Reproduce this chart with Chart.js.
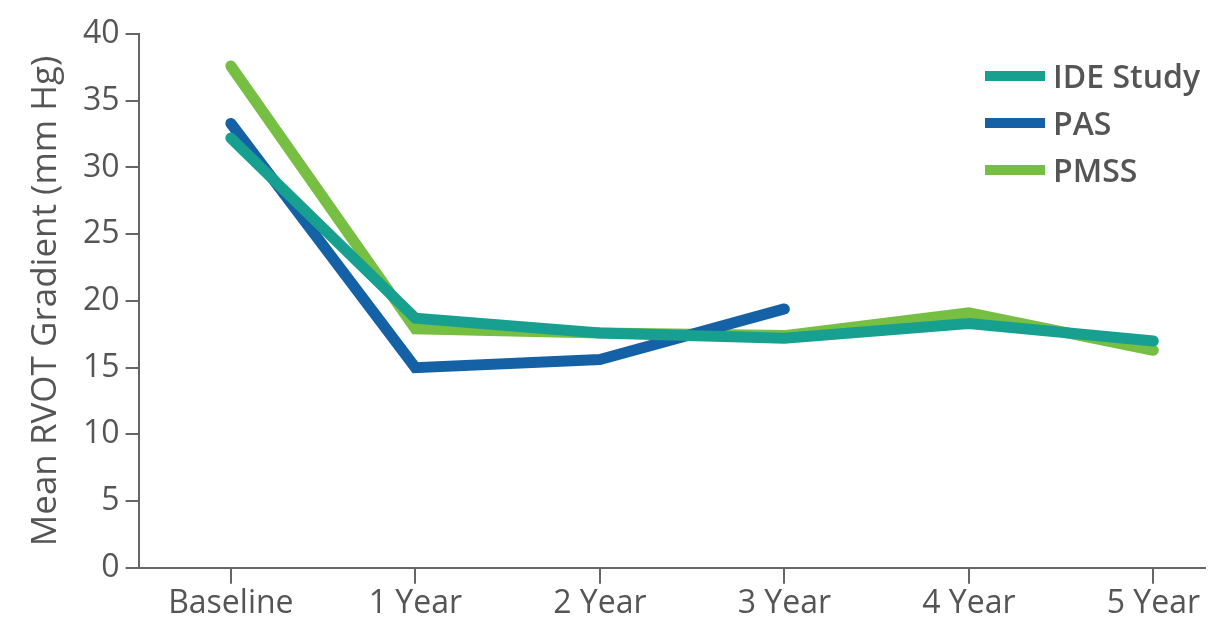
<!DOCTYPE html>
<html>
<head>
<meta charset="utf-8">
<script src="https://cdn.jsdelivr.net/npm/chart.js@4"></script>
<style>
  body { margin: 0; background: #fff; }
  #wrap { position: relative; width: 1209px; height: 629px; }
  #legend { position: absolute; left: 985px; top: 52px; font-family: "Open Sans", sans-serif; font-size: 32px; font-weight: 600; color: #555; }
  .row { display: flex; align-items: center; height: 47px; }
  .swatch { width: 60px; height: 10px; margin-right: 8px; }
</style>
</head>
<body>
<div id="wrap">
  <canvas id="chart" width="1209" height="629"></canvas>
  <div id="legend"></div>
</div>
<script>
// categories and series
const categories = ["Baseline", "1 Year", "2 Year", "3 Year", "4 Year", "5 Year"];
const ideStudy = [32.2, 18.7, 17.6, 17.2, 18.3, 17.0];
const pas = [33.3, 15.0, 15.6, 19.4];
const pmss = [37.6, 17.9, 17.6, 17.4, 19.1, 16.3];
const yTicks = [0, 5, 10, 15, 20, 25, 30, 35, 40];

const seriesNames = ["IDE Study", "PAS", "PMSS"];
const seriesColors = ["#17a08f", "#1561a6", "#76bf43"];

function toPoints(values) {
  return values.map((v, i) => ({ x: i, y: v }));
}

const axisColor = "#666";
const tickFont = { family: "Open Sans", size: 32 };

const ctx = document.getElementById("chart").getContext("2d");
new Chart(ctx, {
  type: "line",
  data: {
    datasets: [ideStudy, pas, pmss].map((vals, i) => ({
      label: seriesNames[i],
      data: toPoints(vals),
      borderColor: seriesColors[i],
      backgroundColor: seriesColors[i],
      borderWidth: 11,
      borderCapStyle: "round",
      borderJoinStyle: "miter",
      pointRadius: 0,
      tension: 0,
      fill: false,
    })),
  },
  options: {
    responsive: false,
    animation: false,
    layout: { padding: { top: 34, right: 4, left: 25, bottom: 6 } },
    plugins: {
      legend: { display: false },
      tooltip: { enabled: false },
    },
    scales: {
      x: {
        type: "linear",
        min: -0.5,
        max: 5.28,
        afterBuildTicks: (axis) => {
          axis.ticks = categories.map((_, i) => ({ value: i }));
        },
        ticks: {
          font: { family: "Open Sans", size: 32, lineHeight: 1.1 },
          color: "#555",
          padding: 2,
          maxRotation: 0,
          callback: (v) => categories[v],
        },
        grid: { drawOnChartArea: false, drawTicks: true, tickLength: 16, color: axisColor, lineWidth: 2 },
        border: { display: true, color: axisColor, width: 2 },
      },
      y: {
        min: 0,
        max: 40,
        afterBuildTicks: (axis) => {
          axis.ticks = yTicks.map((v) => ({ value: v }));
        },
        ticks: { font: tickFont, color: "#555", padding: 6 },
        grid: { drawOnChartArea: false, drawTicks: true, tickLength: 13, color: axisColor, lineWidth: 2 },
        border: { display: true, color: axisColor, width: 2 },
        title: {
          display: true,
          text: "Mean RVOT Gradient (mm Hg)",
          font: { family: "Open Sans", size: 35, weight: 500 },
          color: "#555",
          padding: { top: 0, bottom: 10 },
        },
      },
    },
  },
});

// legend as real text, stacked in the upper right
const legend = document.getElementById("legend");
seriesNames.forEach((name, i) => {
  const row = document.createElement("div");
  row.className = "row";
  row.innerHTML = '<span class="swatch" style="background:' + seriesColors[i] + '"></span>' + name;
  legend.appendChild(row);
});
</script>
</body>
</html>
